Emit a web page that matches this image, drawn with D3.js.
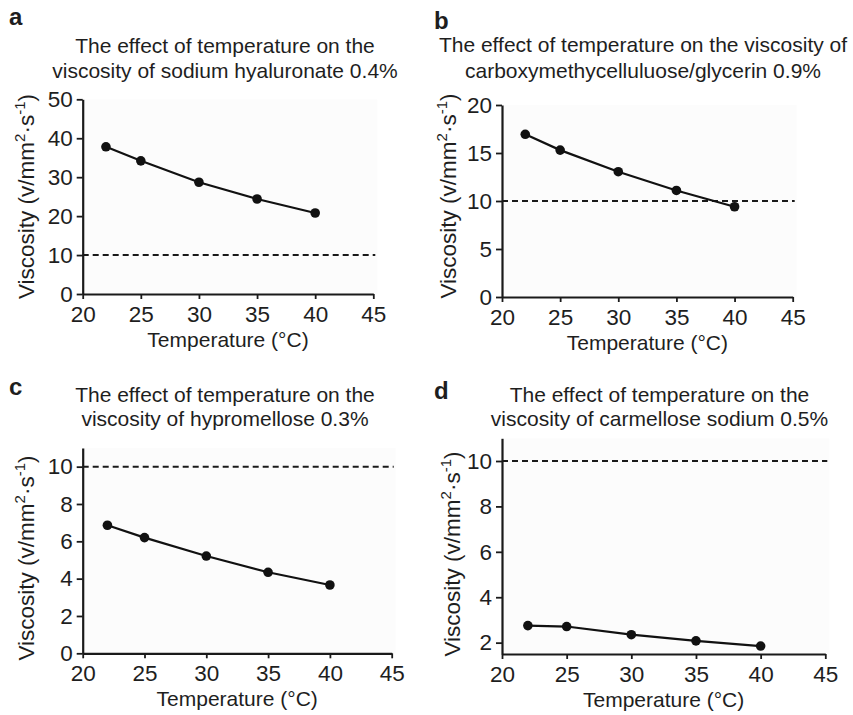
<!DOCTYPE html>
<html>
<head>
<meta charset="utf-8">
<script src="https://cdn.jsdelivr.net/npm/d3@7"></script>
<style>
  html, body { margin: 0; padding: 0; background: #fff; }
  svg { display: block; }
  text { font-family: "Liberation Sans", Arial, Helvetica, sans-serif; fill: #1e1e1e; }
</style>
</head>
<body>
<svg id="chart" width="853" height="715"></svg>
<script>
// ---- data ----
const temperatures = [22, 25, 30, 35, 40];
const viscosityA = [37.8, 34.2, 28.7, 24.4, 20.8];
const viscosityB = [16.95, 15.3, 13.05, 11.1, 9.4];
const viscosityC = [6.86, 6.2, 5.21, 4.34, 3.66];
const viscosityD = [2.75, 2.71, 2.35, 2.08, 1.85];
const threshold = 10;
const xTickValues = [20, 25, 30, 35, 40, 45];
const yTicksA = [0, 10, 20, 30, 40, 50];
const yTicksB = [0, 5, 10, 15, 20];
const yTicksC = [0, 2, 4, 6, 8, 10];
const yTicksD = [2, 4, 6, 8, 10];
const panelLetters = ["a", "b", "c", "d"];
const titlesA = ["The effect of temperature on the", "viscosity of sodium hyaluronate 0.4%"];
const titlesB = ["The effect of temperature on the viscosity of", "carboxymethycelluluose/glycerin 0.9%"];
const titlesC = ["The effect of temperature on the", "viscosity of hypromellose 0.3%"];
const titlesD = ["The effect of temperature on the", "viscosity of carmellose sodium 0.5%"];
const xLabel = "Temperature (\u00B0C)";

// ---- layout ----
const panels = [
  { letter: panelLetters[0], values: viscosityA, yTicks: yTicksA, yDomain: [0, 50], titles: titlesA,
    xr: [82.7, 373.3], yr: [294, 99.3], titleX: 225, titleY: [52.7, 77.5], letterX: 9, letterY: 25,
    ylabX: 34, ylabY: 196.5 },
  { letter: panelLetters[1], values: viscosityB, yTicks: yTicksB, yDomain: [0, 20], titles: titlesB,
    xr: [502, 792.7], yr: [297, 105], titleX: 643, titleY: [51.7, 77.5], letterX: 434, letterY: 29,
    ylabX: 456, ylabY: 196 },
  { letter: panelLetters[2], values: viscosityC, yTicks: yTicksC, yDomain: [0, 11], titles: titlesC,
    xr: [82.7, 391.7], yr: [653.3, 448], titleX: 225, titleY: [401.7, 425.5], letterX: 9, letterY: 395,
    ylabX: 34, ylabY: 558 },
  { letter: panelLetters[3], values: viscosityD, yTicks: yTicksD, yDomain: [1.5, 11], titles: titlesD,
    xr: [502, 825.3], yr: [654, 438.3], titleX: 659.5, titleY: [401.7, 425.5], letterX: 434, letterY: 399,
    ylabX: 460, ylabY: 554 }
];

const svg = d3.select("#chart");

panels.forEach(p => {
  const x = d3.scaleLinear().domain([20, 45]).range(p.xr);
  const y = d3.scaleLinear().domain(p.yDomain).range(p.yr);
  const g = svg.append("g");

  // plot background (very light)
  g.append("rect")
    .attr("x", p.xr[0]).attr("y", p.yr[1])
    .attr("width", p.xr[1] - p.xr[0] + 4).attr("height", p.yr[0] - p.yr[1])
    .attr("fill", "#fcfcfc");

  // panel letter
  g.append("text").attr("x", p.letterX).attr("y", p.letterY)
    .attr("font-size", 24).attr("font-weight", "bold").attr("fill", "#111").text(p.letter);

  // title
  p.titles.forEach((t, i) => {
    g.append("text").attr("x", p.titleX).attr("y", p.titleY[i])
      .attr("text-anchor", "middle").attr("font-size", 21).text(t);
  });

  // threshold dashed line
  g.append("line")
    .attr("x1", x(20)).attr("x2", x(45) + 2)
    .attr("y1", y(threshold)).attr("y2", y(threshold))
    .attr("stroke", "#1a1a1a").attr("stroke-width", 2)
    .attr("stroke-dasharray", "6,4");

  // axes
  const xAxis = d3.axisBottom(x).tickValues(xTickValues).tickSize(5).tickPadding(7).tickSizeOuter(0);
  const yAxis = d3.axisLeft(y).tickValues(p.yTicks).tickSize(6).tickPadding(4).tickSizeOuter(0);

  const gx = g.append("g").attr("transform", `translate(0,${p.yr[0]})`).call(xAxis);
  const gy = g.append("g").attr("transform", `translate(${p.xr[0]},0)`).call(yAxis);
  [gx, gy].forEach(a => {
    a.select(".domain").attr("stroke", "#1a1a1a").attr("stroke-width", 2.2);
    a.selectAll(".tick line").attr("stroke", "#1a1a1a").attr("stroke-width", 1.8);
    a.selectAll(".tick text").attr("font-size", 22.5).attr("fill", "#1e1e1e")
      .attr("font-family", "Liberation Sans, Arial, sans-serif");
  });

  // x label
  g.append("text").attr("x", (p.xr[0] + p.xr[1]) / 2).attr("y", p.yr[0] + 53)
    .attr("text-anchor", "middle").attr("font-size", 21).text(xLabel);

  // y label
  const yl = g.append("text")
    .attr("transform", `translate(${p.ylabX},${p.ylabY}) rotate(-90)`)
    .attr("text-anchor", "middle").attr("font-size", 22.5);
  yl.append("tspan").text("Viscosity (v/mm");
  yl.append("tspan").attr("font-size", 15).attr("dy", -9).text("2");
  yl.append("tspan").attr("dy", 9).text("\u00B7s");
  yl.append("tspan").attr("font-size", 15).attr("dy", -9).text("-1");
  yl.append("tspan").attr("dy", 9).text(")");

  // data line and points
  const pts = temperatures.map((t, i) => [t, p.values[i]]);
  g.append("path").datum(pts)
    .attr("fill", "none").attr("stroke", "#111").attr("stroke-width", 2.2)
    .attr("d", d3.line().x(d => x(d[0])).y(d => y(d[1])));
  g.selectAll("circle.pt").data(pts).enter().append("circle")
    .attr("class", "pt")
    .attr("cx", d => x(d[0])).attr("cy", d => y(d[1])).attr("r", 4.8)
    .attr("fill", "#111");
});
</script>
</body>
</html>
